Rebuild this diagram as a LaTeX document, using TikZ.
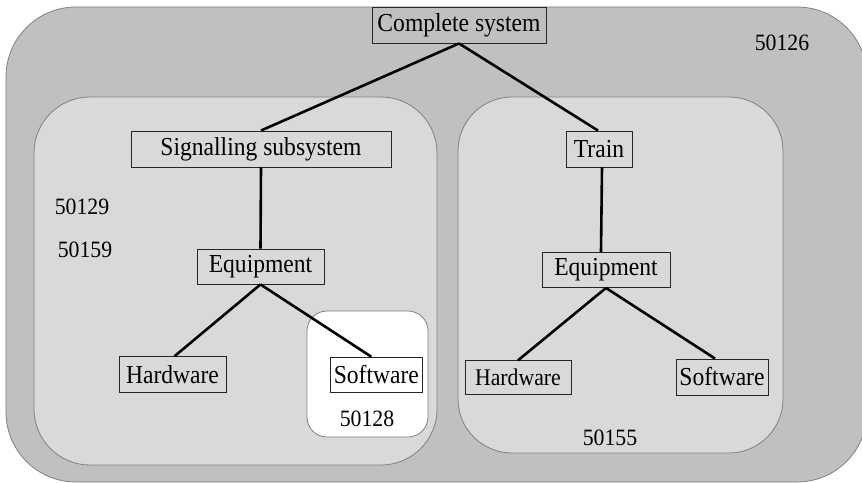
\documentclass[tikz,border=0pt]{standalone}
\usepackage{fontspec}
\setmainfont{Liberation Serif}[FakeStretch=0.91]
\newfontfamily\numfont{Liberation Serif}[FakeStretch=0.93]
\definecolor{outergray}{RGB}{192,192,192}
\definecolor{innergray}{RGB}{217,217,217}
\definecolor{edgegray}{RGB}{128,128,128}
\tikzset{
  region/.style={draw=edgegray, line width=0.8bp},
  box/.style={draw=black!85, line width=0.9bp, inner sep=0pt, align=center,
    font=\fontsize{26}{30}\selectfont},
  tag/.style={inner sep=0pt, font=\numfont\fontsize{23.5}{27}\selectfont},
  link/.style={line width=2.6bp, black}
}
\begin{document}
\begin{tikzpicture}[x=1bp,y=-1bp]
  \useasboundingbox (0,0) rectangle (862,483);
  \fill[white] (0,0) rectangle (862,483);

  % nested regions
  \draw[region, fill=outergray, rounded corners=70bp] (6,7) rectangle (867,482);
  \draw[region, fill=innergray, rounded corners=56bp] (34,97) rectangle (437,465);
  \draw[region, fill=innergray, rounded corners=54bp] (458,97) rectangle (783,453);
  \draw[region, fill=white, rounded corners=20bp] (307,311) rectangle (428,437);

  % hierarchy boxes
  \node[box, minimum width=174bp, minimum height=36bp] (cs)    at (459,25)    {Complete system};
  \node[box, minimum width=260bp, minimum height=36bp] (sig)   at (261,149)   {Signalling subsystem};
  \node[box, minimum width=66bp,  minimum height=36bp] (train) at (599,149)   {Train};
  \node[box, minimum width=127bp, minimum height=35bp] (eqL)   at (260.5,266.5) {Equipment};
  \node[box, minimum width=128bp, minimum height=35bp] (eqR)   at (606,270)   {Equipment};
  \node[box, minimum width=107bp, minimum height=36bp] (hwL)   at (172.5,374.7) {Hardware};
  \node[box, minimum width=92bp,  minimum height=35bp] (swL)   at (376.3,374.7) {Software};
  \node[box, minimum width=106bp, minimum height=34bp, font=\fontsize{24}{28}\selectfont] (hwR) at (518,377.8) {Hardware};
  \node[box, minimum width=92bp,  minimum height=36bp] (swR)   at (722,377)   {Software};

  % connectors
  \draw[link] (cs.south) -- (sig.north);
  \draw[link] (cs.south) -- ([xshift=-1bp]train.north);
  \draw[link] (sig.south) -- (eqL.north);
  \draw[link] (eqL.south) -- ([xshift=2bp]hwL.north);
  \draw[link] (eqL.south) -- ([xshift=-5bp]swL.north);
  \draw[link] ([xshift=3bp]train.south) -- ([xshift=-5bp]eqR.north);
  \draw[link] (eqR.south) -- (hwR.north);
  \draw[link] (eqR.south) -- ([xshift=-7bp]swR.north);

  % region labels
  \node[tag] (l126) at (782,43)  {50126};
  \node[tag] (l129) at (82,207)  {50129};
  \node[tag] (l159) at (85,250)  {50159};
  \node[tag] (l128) at (367,419) {50128};
  \node[tag] (l155) at (610,438) {50155};
\end{tikzpicture}
\end{document}
